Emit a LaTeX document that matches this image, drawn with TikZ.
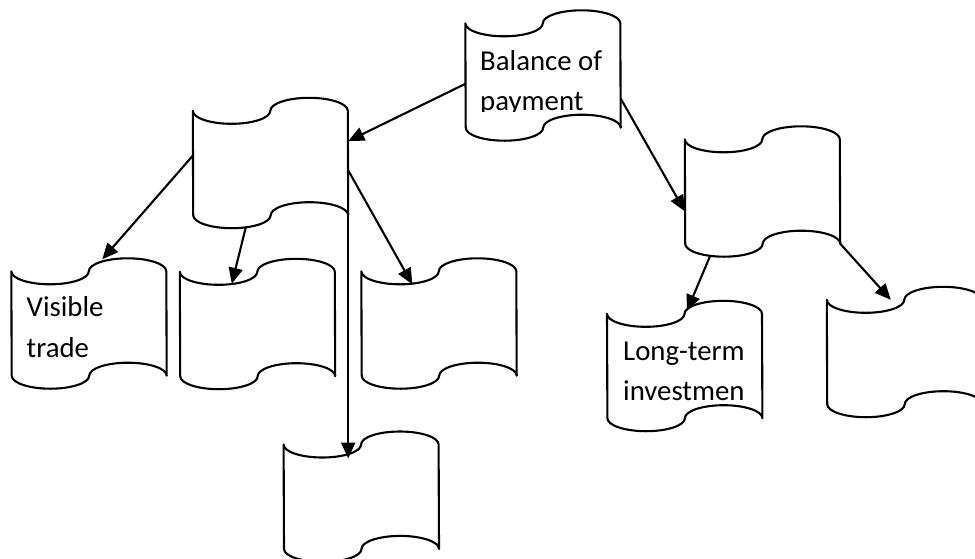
\documentclass[tikz,border=0pt]{standalone}
\usepackage{fontspec}
\setmainfont{Carlito}
\usetikzlibrary{arrows.meta,calc}
\tikzset{
  tapebox/.style={rectangle, draw=none, minimum width=155pt, minimum height=104pt, inner sep=0pt},
  tapeline/.style={line width=2.1pt, line join=round},
  link/.style={line width=2.1pt, -{Triangle[length=16pt,width=14pt]}},
  tapetext/.style={anchor=base west, inner sep=0pt, font=\fontsize{28.8}{40}\selectfont},
}
\begin{document}
\begin{tikzpicture}[x=1pt,y=1pt]
\useasboundingbox (0,0) rectangle (975,-558);

% tape-shaped boxes (node box = straight part between the corners)
\node[tapebox] (bop)   at (543,-75.5) {};
\node[tapebox] (cur)   at (270.5,-163) {};
\node[tapebox] (cap)   at (762.5,-191.5) {};
\node[tapebox] (vis)   at (89,-323.5) {};
\node[tapebox] (goods) at (257.5,-324) {};
\node[tapebox] (serv)  at (439,-323.5) {};
\node[tapebox] (trans) at (361.3,-496.7) {};
\node[tapebox] (lti)   at (684.7,-366) {};
\node[tapebox] (sti)   at (904.5,-352) {};

% punched-tape outline: wavy top and bottom made of half ellipses
\foreach \n in {bop,cur,cap,vis,goods,serv,trans,lti,sti} {
  \draw[tapeline] (\n.north west)
    arc[start angle=180, end angle=360, x radius=38.75pt, y radius=13pt]
    arc[start angle=180, end angle=0,   x radius=38.75pt, y radius=13pt]
    -- (\n.south east)
    arc[start angle=0, end angle=180,  x radius=38.75pt, y radius=13pt]
    arc[start angle=0, end angle=-180, x radius=38.75pt, y radius=13pt]
    -- cycle;
}

% texts
\begin{scope}
  \clip (468,-20) rectangle (618,-111);
  \node[tapetext] (bopA) at (480,-70) {Balance of};
  \node[tapetext] (bopB) at (480,-110) {payment};
\end{scope}
\node[tapetext] (visA) at (26.5,-316.7) {Visible};
\node[tapetext] (visB) at (26.5,-357.7) {trade};
\node[tapetext] (ltiA) at (623,-360) {Long-term};
\node[tapetext] (ltiB) at (623,-400) {investmen};

% connectors
\draw[link] ($(bop.north west)!0.58!(bop.south west)$) -- ($(cur.north east)!0.29!(cur.south east)$);
\draw[link] ($(bop.north east)!0.72!(bop.south east)$) -- ($(cap.north west)!0.69!(cap.south west)$);
\draw[link] ($(cur.north west)!0.43!(cur.south west)$) -- ($(vis.north west)+(91,12)$);
\draw[link] ($(cur.south west)+(53,-12)$) -- ($(goods.north west)+(52,-12)$);
\draw[link] ($(cur.north east)!0.57!(cur.south east)$) -- ($(serv.north west)+(51,-13)$);
\draw[link] (cur.south east) -- ($(cur.south east |- trans.north)+(0,-14)$);
\draw[link] ($(cap.south west)+(25,-13)$) -- ($(lti.north west)+(80,3)$);
\draw[link] (cap.south east) -- ($(sti.north west)+(64,0)$);
\end{tikzpicture}
\end{document}
